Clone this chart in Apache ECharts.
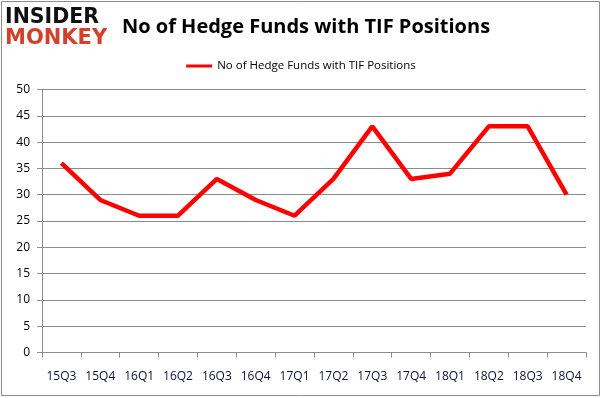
<!DOCTYPE html>
<html>
<head>
<meta charset="utf-8">
<script src="https://cdn.jsdelivr.net/npm/echarts@6/dist/echarts.min.js"></script>
<style>
  html, body { margin: 0; padding: 0; background: #fff; }
  #chart { width: 602px; height: 398px; }
</style>
</head>
<body>
<div id="chart"></div>
<script>
const quarters = ['15Q3', '15Q4', '16Q1', '16Q2', '16Q3', '16Q4', '17Q1', '17Q2', '17Q3', '17Q4', '18Q1', '18Q2', '18Q3', '18Q4'];
const fundCounts = [36, 29, 26, 26, 33, 29, 26, 33, 43, 33, 34, 43, 43, 30];
const seriesName = 'No of Hedge Funds with TIF Positions';

const lineColor = '#ff0000';
const gridColor = '#8c8c8c';
const font = 'Open Sans';

const chart = echarts.init(document.getElementById('chart'));

chart.setOption({
    animation: false,
    title: {
        text: 'No of Hedge Funds with TIF Positions',
        left: 301,
        top: 12,
        textAlign: 'center',
        textStyle: { fontFamily: font, fontSize: 20, fontWeight: 'bold', color: '#000' }
    },
    legend: {
        data: [seriesName],
        top: 55,
        left: 'center',
        itemWidth: 26,
        itemHeight: 3,
        icon: 'rect',
        textStyle: { fontFamily: font, fontSize: 11.5, color: '#000' }
    },
    grid: { left: 42, right: 16, top: 89.5, bottom: 45.5 },
    xAxis: {
        type: 'category',
        data: quarters,
        boundaryGap: true,
        axisLine: { lineStyle: { color: gridColor } },
        axisTick: { show: true, length: 5, lineStyle: { color: gridColor } },
        axisLabel: { interval: 0, fontFamily: font, fontSize: 12, color: '#10103a', margin: 18 }
    },
    yAxis: {
        type: 'value',
        min: 0,
        max: 50,
        interval: 5,
        axisLine: { show: true, lineStyle: { color: gridColor } },
        axisTick: { show: true, length: 5, inside: false, lineStyle: { color: gridColor } },
        axisLabel: { fontFamily: font, fontSize: 12, color: '#000', margin: 12 },
        splitLine: { lineStyle: { color: gridColor } }
    },
    series: [{
        name: seriesName,
        type: 'line',
        data: fundCounts,
        symbol: 'none',
        itemStyle: { color: lineColor },
        lineStyle: { color: lineColor, width: 4.5 }
    }],
    graphic: [
        {
            type: 'rect',
            shape: { x: 1.5, y: 1.5, width: 598, height: 394 },
            style: { fill: 'none', stroke: '#8c8c8c', lineWidth: 1 },
            silent: true
        },
        {
            type: 'text',
            left: 5, top: 7,
            style: { text: 'INSIDER', fontFamily: 'DejaVu Sans', fontWeight: 900, fontSize: 20.5, fill: '#111' }
        },
        {
            type: 'text',
            left: 5, top: 28,
            style: { text: 'MONKEY', fontFamily: 'DejaVu Sans', fontWeight: 900, fontSize: 21, fill: '#d2412b' }
        }
    ]
});
</script>
</body>
</html>
